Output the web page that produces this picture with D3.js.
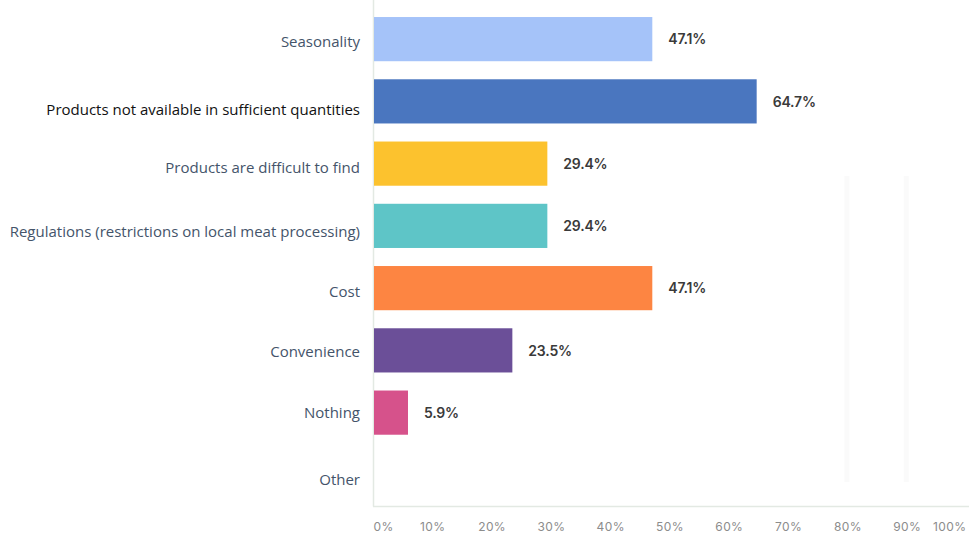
<!DOCTYPE html>
<html>
<head>
<meta charset="utf-8">
<script src="https://cdn.jsdelivr.net/npm/d3@7/dist/d3.min.js"></script>
<style>
  html, body { margin: 0; padding: 0; background: #ffffff; }
  svg { display: block; }
</style>
</head>
<body>
<svg id="chart" width="969" height="544"></svg>
<script>
// Survey answers: barriers to buying local food (share of respondents, %)
const categories = [
  "Seasonality",
  "Products not available in sufficient quantities",
  "Products are difficult to find",
  "Regulations (restrictions on local meat processing)",
  "Cost",
  "Convenience",
  "Nothing",
  "Other"
];
const values = [47.1, 64.7, 29.4, 29.4, 47.1, 23.5, 5.9, 0];
const valueLabels = ["47.1%", "64.7%", "29.4%", "29.4%", "47.1%", "23.5%", "5.9%", ""];
const barColors = ["#a5c3f9", "#4a76bf", "#fcc22e", "#5ec5c7", "#fd8542", "#6b4f98", "#d6528b", "#cccccc"];
const labelColors = ["#44546a", "#111111", "#44546a", "#44546a", "#44546a", "#44546a", "#44546a", "#44546a"];
const xTicks = [0, 10, 20, 30, 40, 50, 60, 70, 80, 90, 100];
const xTickLabels = ["0%", "10%", "20%", "30%", "40%", "50%", "60%", "70%", "80%", "90%", "100%"];

const svg = d3.select("#chart");
const margin = { left: 373, right: 3, top: 8, bottom: 38 };
const W = 969, H = 544;

const x = d3.scaleLinear().domain([0, 100]).range([margin.left, W - margin.right]);
const y = d3.scaleBand().domain(categories).range([margin.top, H - margin.bottom]).paddingInner(0.29).paddingOuter(0.145);

// category labels sit a little below their bar centres
const labelShift = [3, 9, 5, 6, 4, 2, 1, 5];

// faint vertical guides
svg.append("g")
  .selectAll("line")
  .data([80, 90])
  .join("line")
  .attr("x1", d => x(d) - 0.5).attr("x2", d => x(d) - 0.5)
  .attr("y1", 176).attr("y2", 482)
  .attr("stroke", "#fafafa").attr("stroke-width", 5);

// frame: left axis and bottom axis lines
svg.append("line")
  .attr("x1", x(0) + 0.5).attr("x2", x(0) + 0.5)
  .attr("y1", 0).attr("y2", H - margin.bottom + 0.5)
  .attr("stroke", "#e3e9e3").attr("stroke-width", 1.5);
svg.append("line")
  .attr("x1", x(0)).attr("x2", W)
  .attr("y1", H - margin.bottom + 0.5).attr("y2", H - margin.bottom + 0.5)
  .attr("stroke", "#e3e9e3").attr("stroke-width", 1.5);

// bars
svg.append("g")
  .selectAll("rect")
  .data(categories)
  .join("rect")
  .attr("x", x(0) + 1)
  .attr("y", d => y(d))
  .attr("width", (d, i) => Math.max(0, x(values[i]) - x(0) - 1))
  .attr("height", y.bandwidth())
  .attr("fill", (d, i) => barColors[i]);

// value labels
svg.append("g")
  .selectAll("text")
  .data(categories)
  .join("text")
  .attr("x", (d, i) => x(values[i]) + 16)
  .attr("y", d => y(d) + y.bandwidth() / 2 + 1.5)
  .attr("dominant-baseline", "middle")
  .attr("font-family", "Inter, 'Noto Sans', sans-serif")
  .attr("font-weight", 600)
  .attr("font-size", 14)
  .attr("letter-spacing", -0.2)
  .attr("fill", "#3a3a3a")
  .text((d, i) => valueLabels[i]);

// category labels
const yAxis = d3.axisLeft(y).tickSize(0).tickPadding(13);
const gy = svg.append("g").attr("transform", `translate(${x(0)},0)`).call(yAxis);
gy.select(".domain").remove();
gy.selectAll(".tick")
  .attr("transform", (d, i) => `translate(0,${y(d) + y.bandwidth() / 2 + labelShift[i]})`);
gy.selectAll("text")
  .attr("font-family", "'Open Sans', 'Noto Sans', sans-serif")
  .attr("font-size", 15)
  .attr("fill", (d, i) => labelColors[i]);

// x axis
const xAxis = d3.axisBottom(x).tickValues(xTicks).tickSize(0).tickPadding(16)
  .tickFormat((d, i) => xTickLabels[i]);
const gx = svg.append("g").attr("transform", `translate(0,${H - margin.bottom})`).call(xAxis);
gx.select(".domain").remove();
gx.selectAll("text")
  .attr("font-family", "Inter, 'Noto Sans', sans-serif")
  .attr("font-size", 12)
  .attr("letter-spacing", 0.4)
  .attr("fill", "#8c8c8c")
  .attr("text-anchor", (d, i) => i === 0 ? "start" : i === xTicks.length - 1 ? "end" : "middle");
</script>
</body>
</html>
